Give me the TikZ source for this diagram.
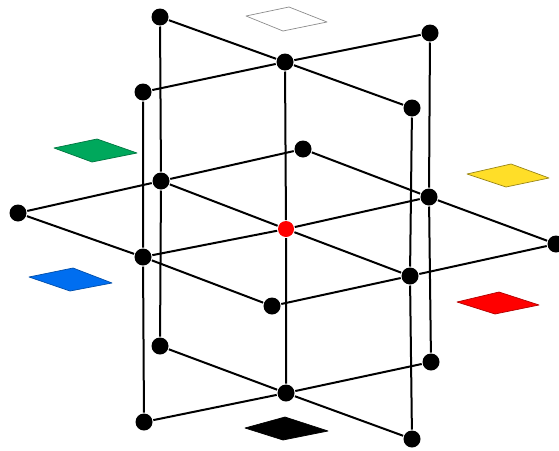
\documentclass[tikz,border=0pt]{standalone}
\usepackage{tikz}
\usetikzlibrary{positioning}

\definecolor{tilegreen}{RGB}{0,168,92}
\definecolor{tileyellow}{RGB}{255,222,40}
\definecolor{tileblue}{RGB}{0,110,240}

\begin{document}
\begin{tikzpicture}[x=1pt,y=-1pt,line width=2pt,
    dot/.style={circle,fill=black,inner sep=0pt,minimum size=17pt},
    tile/.style={line width=0.7pt,line join=round}]
    \useasboundingbox (0,0) rectangle (559,450);

    % Colour tiles around the frame
    \draw[tile,draw=black!45,fill=white] (246,16) -- ++(43,-9) -- ++(38,15) -- ++(-44,9) -- cycle;
    \draw[tile,draw=tilegreen!70!black,fill=tilegreen] (54,148) -- ++(43,-9) -- ++(40,14) -- ++(-45,9) -- cycle;
    \draw[tile,draw=tileyellow!60!black,fill=tileyellow] (467,174) -- ++(44,-10) -- ++(38,14) -- ++(-43,9) -- cycle;
    \draw[tile,draw=tileblue!70!black,fill=tileblue] (29,277) -- ++(44,-9) -- ++(39,15) -- ++(-42,8) -- cycle;
    \draw[tile,draw=red!70!black,fill=red] (457,302) -- ++(42,-10) -- ++(40,13) -- ++(-44,9) -- cycle;
    \draw[tile,fill=black] (245,428) -- ++(40,-11) -- ++(43,14) -- ++(-45,9) -- cycle;

    % Plane through the back-left and front-right points
    \node[dot] (a1) at (160,17) {};
    \node[dot] (a2) at (285,62) {};
    \node[dot] (a3) at (412,108) {};
    \node[dot] (a4) at (161,181) {};
    \node[dot,fill=red,minimum size=16pt] (c) at (286,229) {};
    \node[dot] (a6) at (410,276) {};
    \node[dot] (a7) at (160,346) {};
    \node[dot] (a8) at (286,393) {};
    \node[dot] (a9) at (412,439) {};

    % Plane through the back-right and front-left points
    \node[dot] (b1) at (430,33) {};
    \node[dot] (b3) at (143,92) {};
    \node[dot] (b4) at (429,197) {};
    \node[dot] (b6) at (143,257) {};
    \node[dot] (b7) at (431,362) {};
    \node[dot] (b9) at (144,422) {};

    % Horizontal plane corners
    \node[dot] (h1) at (18,213) {};
    \node[dot] (h3) at (303,149) {};
    \node[dot] (h7) at (272,306) {};
    \node[dot] (h9) at (556,244) {};

    % Edges of the first vertical plane
    \draw (a1) -- (a2) -- (a3) -- (a6) -- (a9) -- (a8) -- (a7) -- (a4) -- (a1);
    \draw (a2) -- (c) -- (a8);
    \draw (a4) -- (c) -- (a6);

    % Edges of the second vertical plane
    \draw (b1) -- (a2) -- (b3) -- (b6) -- (b9) -- (a8) -- (b7) -- (b4) -- (b1);
    \draw (b6) -- (c) -- (b4);

    % Edges of the horizontal plane
    \draw (h1) -- (a4) -- (h3) -- (b4) -- (h9) -- (a6) -- (h7) -- (b6) -- (h1);
\end{tikzpicture}
\end{document}
